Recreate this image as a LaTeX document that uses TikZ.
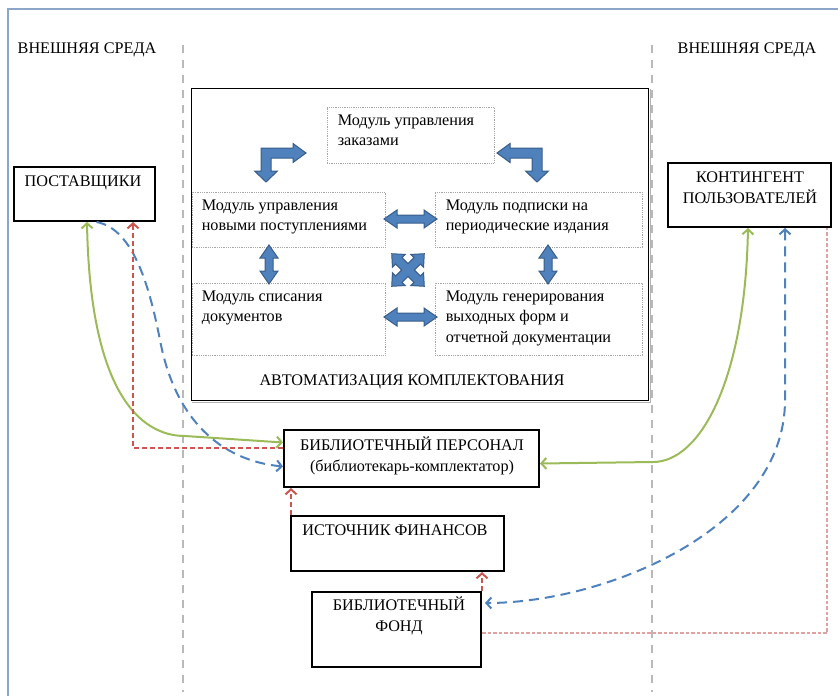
\documentclass[tikz,border=0pt]{standalone}
\usepackage{fontspec}
\setmainfont{Liberation Serif}
\usetikzlibrary{arrows.meta}
\definecolor{arrowBlue}{RGB}{79,129,189}
\definecolor{arrowEdge}{RGB}{56,93,138}
\definecolor{lineGreen}{RGB}{155,187,89}
\definecolor{lineBlue}{RGB}{79,129,189}
\definecolor{lineRed}{RGB}{205,85,80}
\definecolor{linePink}{RGB}{226,160,158}
\definecolor{frameBlue}{RGB}{140,165,200}

\begin{document}
\begin{tikzpicture}
[x=1pt,y=-1pt,%
  font=\fontsize{16.2}{20.5}\selectfont,%
  >={Straight Barb[length=5pt,width=11pt]},%
  frameLine/.style={color=frameBlue,line width=1.2pt},%
  zoneLine/.style={color=gray!55,line width=1.6pt,dash pattern=on 8pt off 7pt},%
  autoBox/.style={draw,line width=1pt,inner sep=0pt},%
  moduleBox/.style={draw=gray!70,densely dotted,line width=0.8pt,inner sep=0pt},%
  outerBox/.style={draw,line width=2pt,inner sep=0pt},%
  moduleText/.style={anchor=north west,inner sep=0pt,align=left},%
  outerText/.style={inner sep=0pt,align=center},%
  blockArrow/.style={fill=arrowBlue,draw=arrowEdge,line width=1pt},%
  greenLine/.style={color=lineGreen,line width=2pt},%
  blueLine/.style={color=lineBlue,line width=2pt,dash pattern=on 10pt off 6pt},%
  redLine/.style={color=lineRed,line width=2pt,dash pattern=on 5pt off 3pt},%
  pinkLine/.style={color=linePink,line width=2pt,dash pattern=on 3.5pt off 2pt}]
\useasboundingbox (0,0) rectangle (838,696);
%% frame and zones
\draw[frameLine] (8,696) -- (8,9) -- (838,9);
\draw[zoneLine] (183,45) -- (183,692);
\draw[zoneLine] (652,45) -- (652,692);
\node[outerText] (envL) at (87,50) {ВНЕШНЯЯ СРЕДА};
\node[outerText] (envR) at (747,50) {ВНЕШНЯЯ СРЕДА};
%% automation block
\node[autoBox,minimum width=457pt,minimum height=312pt] (auto) at (419.5,244) {};
\draw[gray!60,line width=1pt] ([shift={(1,1.5)}]auto.south west) -| ([shift={(1.5,1)}]auto.north east);
\node[outerText] (autoText) at (412,382) {АВТОМАТИЗАЦИЯ КОМПЛЕКТОВАНИЯ};
\node[moduleBox,minimum width=167pt,minimum height=56pt] (zak) at (410.5,135) {};
\node[moduleBox,minimum width=193pt,minimum height=55pt] (np) at (288.5,219.5) {};
\node[moduleBox,minimum width=207pt,minimum height=55pt] (ps) at (538.5,219.5) {};
\node[moduleBox,minimum width=193pt,minimum height=72pt] (sp) at (288.5,319) {};
\node[moduleBox,minimum width=207pt,minimum height=72pt] (gen) at (538.5,319) {};
\node[moduleText] (zakText) at ([shift={(11,8)}]zak.north west) {Модуль управления\\заказами};
\node[moduleText] (npText) at ([shift={(10,8)}]np.north west) {Модуль управления\\новыми поступлениями};
\node[moduleText] (psText) at ([shift={(11,8)}]ps.north west) {Модуль подписки на\\периодические издания};
\node[moduleText] (spText) at ([shift={(10,8)}]sp.north west) {Модуль списания\\документов};
\node[moduleText] (genText) at ([shift={(11,8)}]gen.north west) {Модуль генерирования\\выходных форм и\\отчетной документации};
%% block arrows
\foreach \cx/\sx in {266/1, 537/-1}
{
  \begin{scope}[shift={(\cx,153)},xscale=\sx]
    \path[blockArrow] (0,29) -- (11.5,18) -- (5,18) -- (5,5) -- (27,5) -- (27,9.5) -- (40,0)
      -- (27,-9.5) -- (27,-5) -- (-5,-5) -- (-5,18) -- (-11.5,18) -- cycle;
  \end{scope}
}
\foreach \cx/\cy/\ang/\len in {410.5/219/0/53, 410.5/317/0/53, 269/264.5/90/39, 548/264.5/90/39}
{
  \begin{scope}[shift={(\cx,\cy)},rotate=\ang]
    \path[blockArrow] (-\len/2,0) -- ++(13,-9) -- ++(0,5) -- (\len/2-13,-4) -- ++(0,-5) -- (\len/2,0)
      -- ++(-13,9) -- ++(0,-5) -- (-\len/2+13,4) -- ++(0,5) -- cycle;
  \end{scope}
}
\begin{scope}[shift={(408,270)},rotate=45]
  \path[blockArrow] (4.5,4.5) -- (13,4.5) -- (13,9) -- (23,0) -- (13,-9) -- (13,-4.5) -- (4.5,-4.5)
    -- (4.5,-13) -- (9,-13) -- (0,-23) -- (-9,-13) -- (-4.5,-13) -- (-4.5,-4.5) -- (-13,-4.5)
    -- (-13,-9) -- (-23,0) -- (-13,9) -- (-13,4.5) -- (-4.5,4.5) -- (-4.5,13) -- (-9,13)
    -- (0,23) -- (9,13) -- (4.5,13) -- cycle;
\end{scope}
%% outer boxes
\node[outerBox,minimum width=141pt,minimum height=54pt] (post) at (84.5,194) {};
\node[outerBox,minimum width=163pt,minimum height=64pt] (kont) at (749.5,195) {};
\node[outerBox,minimum width=255pt,minimum height=57pt] (pers) at (411.5,458.5) {};
\node[outerBox,minimum width=213pt,minimum height=55pt] (fin) at (397.5,543.5) {};
\node[outerBox,minimum width=169pt,minimum height=75pt] (fond) at (396.5,629.5) {};
\node[outerText] (postText) at (83,183) {ПОСТАВЩИКИ};
\node[outerText] (kontText) at (750,187.5) {КОНТИНГЕНТ\\ПОЛЬЗОВАТЕЛЕЙ};
\node[outerText] (persText) at (412,456) {БИБЛИОТЕЧНЫЙ ПЕРСОНАЛ\\(библиотекарь-комплектатор)};
\node[outerText] (finText) at (395,530) {ИСТОЧНИК ФИНАНСОВ};
\node[outerText] (fondText) at (399,616) {БИБЛИОТЕЧНЫЙ\\ФОНД};
%% bends
\coordinate (gL) at (185,436);
\coordinate (gR) at (653,462);
\coordinate (bL) at (160,340);
\coordinate (bR) at (785,400);
\coordinate (finTop) at ([shift={(1,0)}]fin.north west);
%% left links
\draw[greenLine,<->] ([shift={(2.5,0)}]post.south) .. controls +(3,170) and +(-45,0) .. (gL)
  -- ([shift={(0,-16)}]pers.west);
\draw[blueLine,->] ([shift={(12,0)}]post.south) .. controls +(38,7) and +(-10,-50) .. (bL)
  .. controls +(15,80) and +(-62,-6) .. ([shift={(0,8)}]pers.west);
\draw[redLine,->] ([shift={(0,-11)}]pers.west) -| ([shift={(48.5,0)}]post.south);
%% right links
\draw[greenLine,<->] ([shift={(-1.5,0)}]kont.south) .. controls +(-3,153) and +(47,0) .. (gR)
  -- ([shift={(0,5)}]pers.east);
\draw[blueLine,<->] ([shift={(35.5,0)}]kont.south) -- (bR)
  .. controls +(0,130) and +(119,0) .. ([shift={(3,-26.5)}]fond.east);
\draw[pinkLine] ([shift={(0,3.5)}]fond.east) -| ([shift={(77.5,0)}]kont.south);
%% bottom links
\draw[redLine,->] (finTop) -- (finTop |- pers.south);
\draw[redLine,->] (fond.north east) -- (fond.north east |- fin.south);
\end{tikzpicture}
\end{document}
